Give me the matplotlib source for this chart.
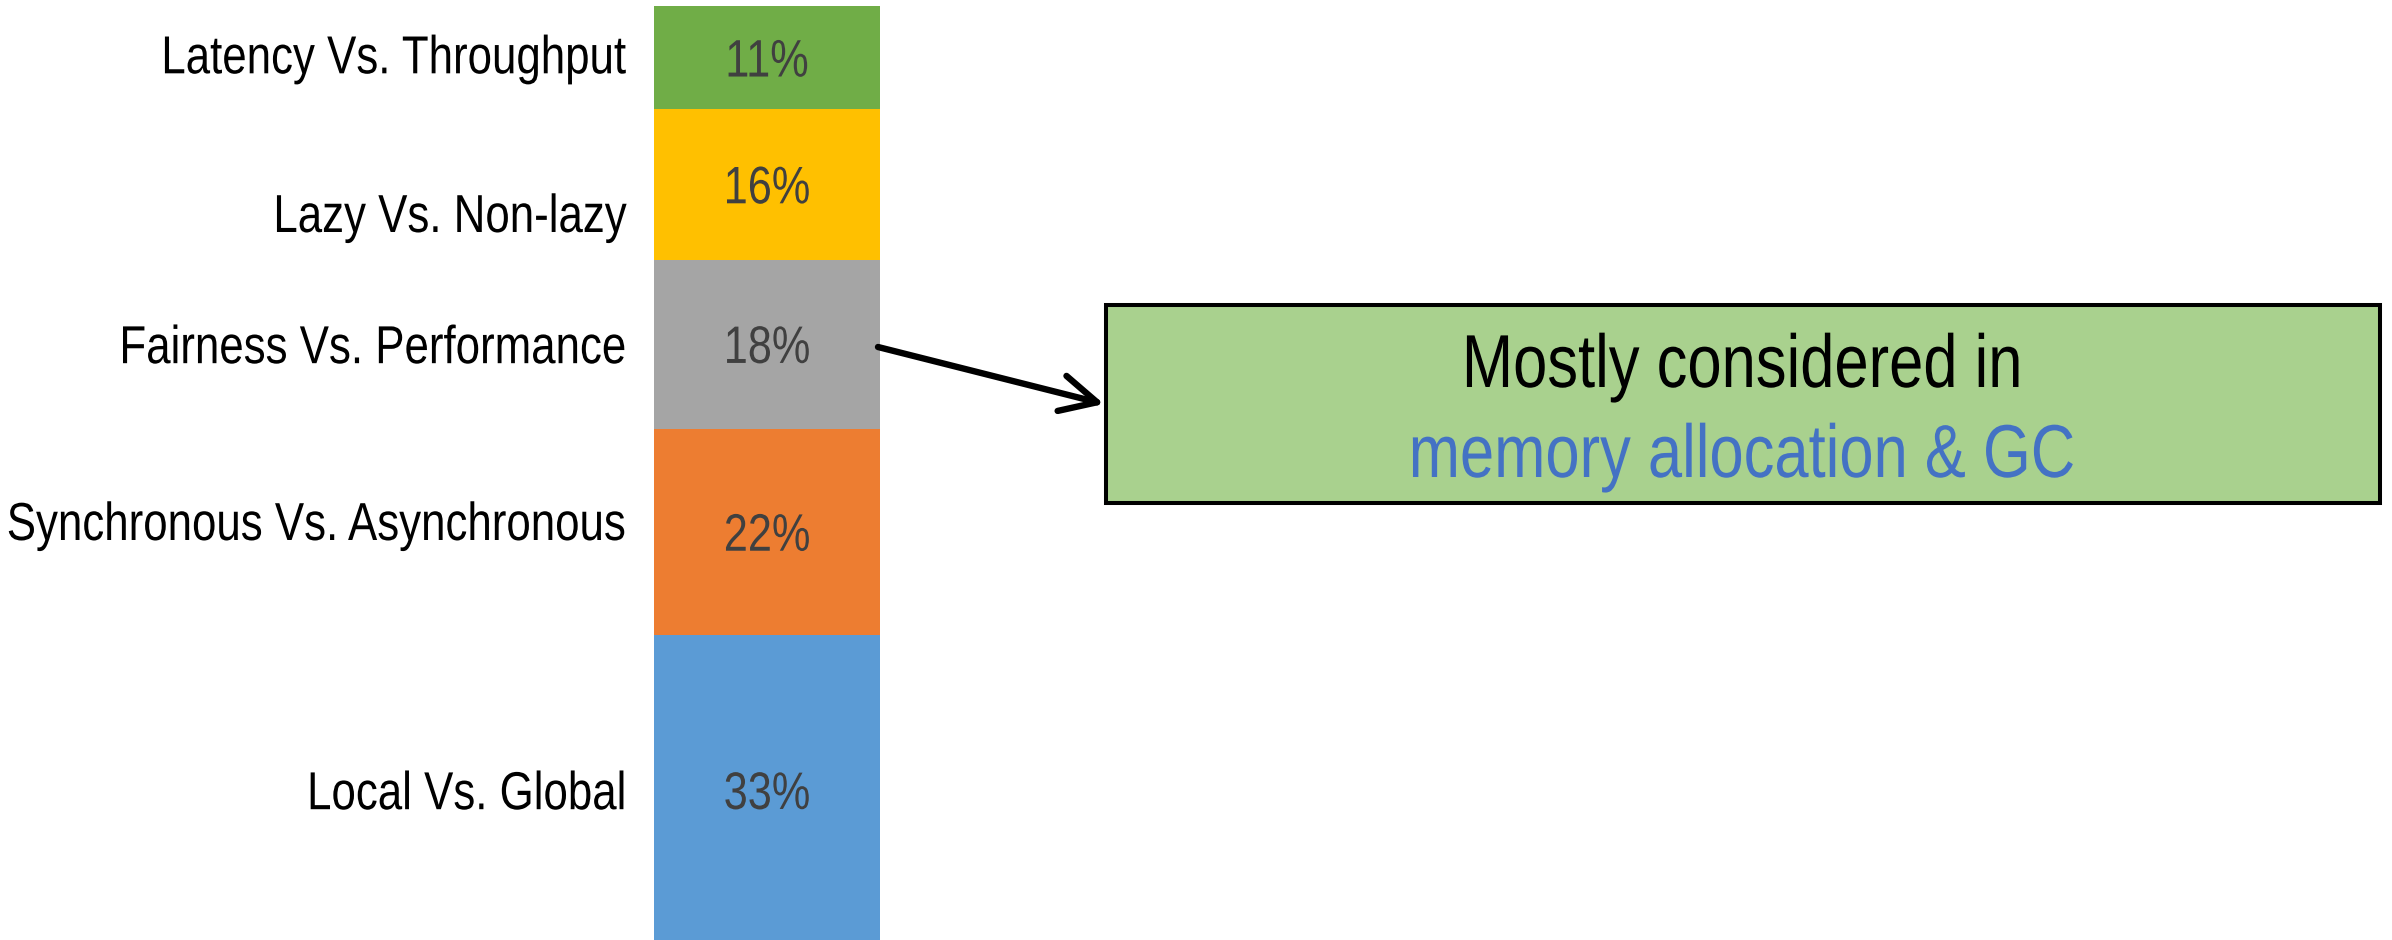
import matplotlib
matplotlib.use("Agg")
import matplotlib.pyplot as plt
from matplotlib.patches import Rectangle, FancyArrowPatch, ArrowStyle
from matplotlib.patheffects import AbstractPathEffect
from matplotlib.transforms import Affine2D, Bbox
from matplotlib.text import Text
import numpy as np

# Share of each trade-off category (bottom to top of the stacked bar)
categories = ["Local Vs. Global", "Synchronous Vs. Asynchronous",
              "Fairness Vs. Performance", "Lazy Vs. Non-lazy",
              "Latency Vs. Throughput"]
shares = [33, 22, 18, 16, 11]
colors = ["#5B9BD5", "#ED7D31", "#A5A5A5", "#FFC000", "#70AD47"]
# vertical nudge (in % units) of each category name relative to its segment centre
label_nudge = [0.0, 1.17, 0.0, -3.03, 0.37]

callout_line1 = "Mostly considered in"
callout_line2 = "memory allocation & GC"

plt.rcParams["font.family"] = ["Liberation Sans", "DejaVu Sans"]
NARROW = 0.82   # horizontal squeeze giving an Arial-Narrow-like face
CAP = 0.716     # cap height / em for Liberation Sans


class NarrowText(Text):
    """Text drawn horizontally squeezed about its anchor point."""

    sx = NARROW

    def _pivot(self):
        return self.get_transform().transform(self.get_position())[0]

    def get_window_extent(self, renderer=None, dpi=None):
        bb = super().get_window_extent(renderer, dpi)
        px = self._pivot()
        x0 = px + (bb.x0 - px) * self.sx
        x1 = px + (bb.x1 - px) * self.sx
        return Bbox([[x0, bb.y0], [x1, bb.y1]])


class Squeeze(AbstractPathEffect):
    def __init__(self, text):
        super().__init__()
        self.text = text

    def draw_path(self, renderer, gc, tpath, affine, rgbFace=None):
        px = self.text._pivot()
        sq = Affine2D().translate(-px, 0).scale(self.text.sx, 1).translate(px, 0)
        renderer.draw_path(gc, tpath, affine + sq, rgbFace)


def narrow_text(axes, x, y, s, size, ha, color):
    t = NarrowText(x, y, s, ha=ha, va="baseline", fontsize=size, color=color,
                   transform=axes.transData, clip_on=False)
    t.set_path_effects([Squeeze(t)])
    axes.add_artist(t)
    return t


W, H = 2392, 940
fig = plt.figure(figsize=(W / 100, H / 100), dpi=100)

# Bar axes: spans exactly the bar width, 0% at the bottom, 100% at top
ax = fig.add_axes([654 / W, (H - 945) / H, 226 / W, 939 / H])
ax.set_xlim(0, 1)
ax.set_ylim(0, 100)
ax.axis("off")

bottoms = np.concatenate([[0], np.cumsum(shares)[:-1]])
ax.bar([0.5] * len(shares), shares, width=1.0, bottom=bottoms, color=colors,
       edgecolor="none", clip_on=False)

px_per_pct = 939 / 100
pct_size, lab_size = 38, 38.5
pct_half = CAP * pct_size * 100 / 72 / 2 / px_per_pct
lab_half = CAP * lab_size * 100 / 72 / 2 / px_per_pct
for name, val, b, nudge in zip(categories, shares, bottoms, label_nudge):
    mid = b + val / 2
    narrow_text(ax, 0.5, mid - pct_half, f"{val}%", pct_size, "center", "#404040")
    narrow_text(ax, -0.12, mid + nudge - lab_half, name, lab_size, "right", "black")

# Overlay axes in pixel units for the callout box and arrow
ov = fig.add_axes([0, 0, 1, 1])
ov.set_xlim(0, W)
ov.set_ylim(H, 0)
ov.axis("off")

box = Rectangle((1106, 305), 1274, 198, facecolor="#A9D18E",
                edgecolor="black", linewidth=2.9)
ov.add_patch(box)
narrow_text(ov, 1742, 387, callout_line1, 54, "center", "black")
narrow_text(ov, 1742, 477, callout_line2, 54, "center", "#4472C4")

arrow = FancyArrowPatch((878, 347), (1104, 404),
                        arrowstyle=ArrowStyle("->", head_length=2.6, head_width=1.3),
                        mutation_scale=10, linewidth=4.6, color="black",
                        capstyle="round", joinstyle="round",
                        shrinkA=0, shrinkB=0)
ov.add_patch(arrow)

fig.savefig("out.png", dpi=100)
